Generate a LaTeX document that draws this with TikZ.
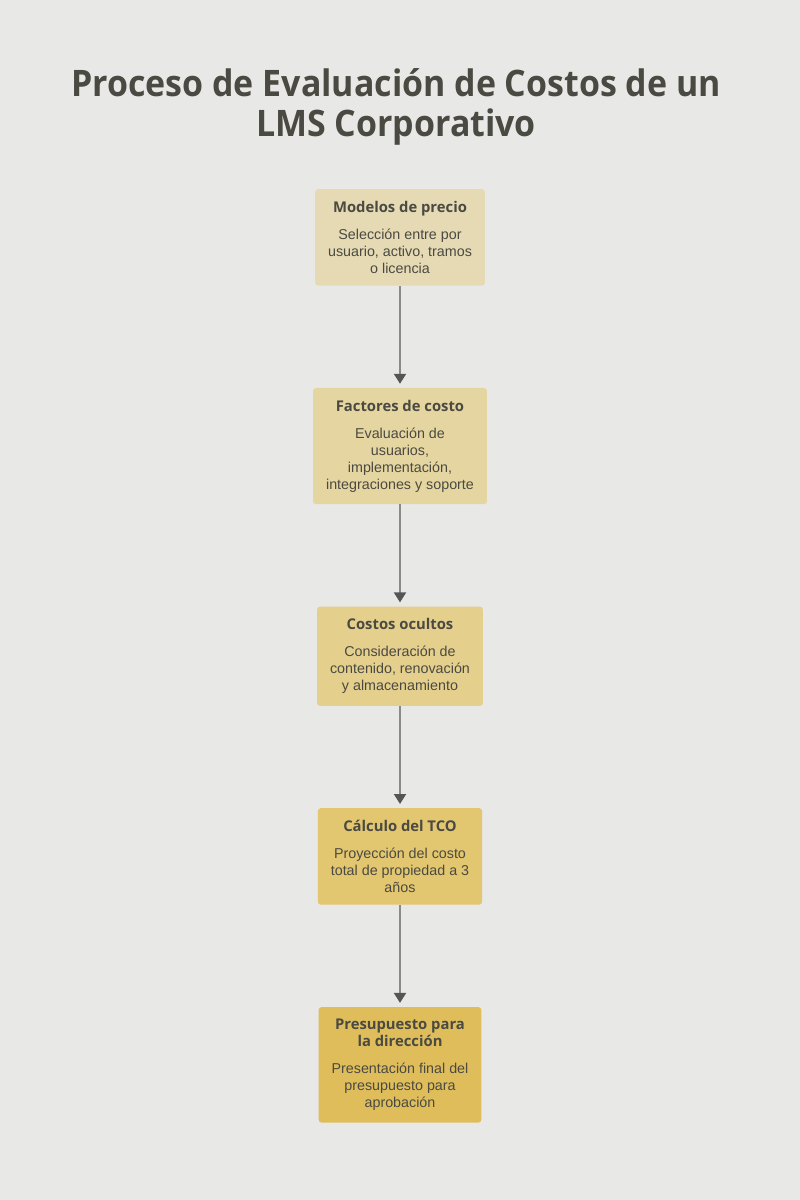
\documentclass[tikz,border=0pt]{standalone}
\usepackage{fontspec}
\setmainfont{Liberation Sans}
\newfontfamily\headfont{Open Sans}
\newfontfamily\titlefont[FakeStretch=0.93]{Open Sans}
\usetikzlibrary{arrows.meta,positioning}
\definecolor{bgGray}{HTML}{E8E8E6}
\definecolor{txtDark}{HTML}{4A4A42}
\definecolor{arrGray}{HTML}{8A8A88}
\definecolor{arrDark}{HTML}{555553}
\definecolor{boxA}{HTML}{E5DAB4}
\definecolor{boxB}{HTML}{E5D5A0}
\definecolor{boxC}{HTML}{E5CF8D}
\definecolor{boxD}{HTML}{E2C670}
\definecolor{boxE}{HTML}{DFBD5B}

\begin{document}
\begin{tikzpicture}[
x=1pt, y=1pt,
node distance=102pt,
every node/.style={text=txtDark},
stage/.style={rounded corners=3pt, align=center, inner xsep=13pt, inner ysep=12pt, font=\fontsize{14.3}{17}\selectfont},
arr/.style={-{Triangle[length=10pt,width=12pt,color=arrDark]}, line width=2pt, draw=arrGray, shorten >=4pt}
]
\fill[bgGray] (0,0) rectangle (800,1200);

% Title
\node[font=\titlefont\bfseries\fontsize{36.5}{40}\selectfont, align=center] (title) at (396,1093) {Proceso de Evaluación de Costos de un\\LMS Corporativo};

% Steps
\node[stage, fill=boxA, anchor=north] (S1) at (400,1011) {{\headfont\bfseries\fontsize{14.8}{17}\selectfont Modelos de precio}\\[10pt]Selección entre por\\usuario, activo, tramos\\o licencia};
\node[stage, below=of S1, fill=boxB] (S2) {{\headfont\bfseries\fontsize{14.8}{17}\selectfont Factores de costo}\\[10pt]Evaluación de\\usuarios,\\implementación,\\integraciones y soporte};
\node[stage, below=of S2, fill=boxC] (S3) {{\headfont\bfseries\fontsize{14.8}{17}\selectfont Costos ocultos}\\[10pt]Consideración de\\contenido, renovación\\y almacenamiento};
\node[stage, below=of S3, fill=boxD] (S4) {{\headfont\bfseries\fontsize{14.8}{17}\selectfont Cálculo del TCO}\\[10pt]Proyección del costo\\total de propiedad a 3\\años};
\node[stage, below=of S4, fill=boxE] (S5) {{\headfont\bfseries\fontsize{14.8}{17}\selectfont Presupuesto para}\\{\headfont\bfseries\fontsize{14.8}{17}\selectfont la dirección}\\[10pt]Presentación final del\\presupuesto para\\aprobación};

\draw[arr] (S1) -- (S2); \draw[arr] (S2) -- (S3); \draw[arr] (S3) -- (S4); \draw[arr] (S4) -- (S5);
\end{tikzpicture}
\end{document}
